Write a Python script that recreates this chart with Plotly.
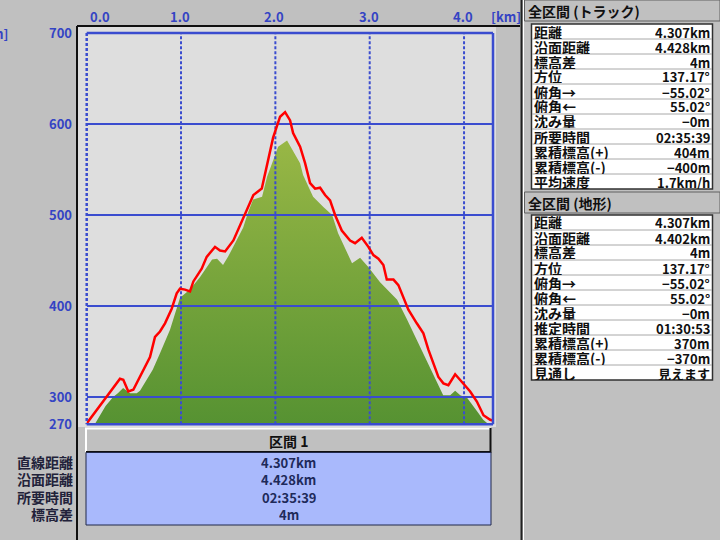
import plotly.graph_objects as go

W, H = 720, 540

# ---------------- data ----------------
track_km = [0.0, 0.194, 0.265, 0.318, 0.353, 0.388, 0.441, 0.494, 0.565, 0.618, 0.671, 0.724, 0.777,
            0.830, 0.901, 0.954, 0.989, 1.042, 1.095, 1.131, 1.219, 1.272, 1.360, 1.413, 1.467,
            1.555, 1.661, 1.714, 1.767, 1.856, 1.909, 1.976, 2.050, 2.103, 2.156, 2.188, 2.262,
            2.315, 2.368, 2.421, 2.474, 2.527, 2.580, 2.633, 2.704, 2.792, 2.845, 2.916, 2.986,
            3.039, 3.092, 3.145, 3.181, 3.252, 3.304, 3.357, 3.410, 3.499, 3.569, 3.622, 3.675,
            3.728, 3.781, 3.834, 3.906, 3.994, 4.065, 4.136, 4.206, 4.277, 4.307]
track_elev = [271, 298, 308, 315, 320, 319, 306, 308, 322, 333, 344, 366, 372,
              381, 397, 414, 419, 418, 416, 427, 441, 454, 465, 461, 460,
              472, 498, 510, 522, 529, 555, 585, 608, 613, 604, 590, 575,
              557, 535, 529, 530, 522, 516, 500, 483, 472, 469, 475, 465,
              456, 452, 445, 429, 429, 423, 410, 396, 381, 370, 352, 337,
              322, 315, 313, 325, 315, 306, 295, 280, 275, 274]

terrain_km = [0.0, 0.09, 0.20, 0.28, 0.33, 0.386, 0.46, 0.53, 0.565, 0.639, 0.70, 0.777, 0.883,
              0.989, 1.095, 1.202, 1.329, 1.382, 1.445, 1.498, 1.594, 1.658, 1.711, 1.764,
              1.859, 1.912, 1.976, 2.029, 2.124, 2.188, 2.262, 2.294, 2.400, 2.506, 2.602,
              2.665, 2.74, 2.813, 2.898, 2.983, 3.110, 3.20, 3.291, 3.397, 3.535, 3.662,
              3.779, 3.853, 3.906, 3.96, 4.034, 4.140, 4.203, 4.26, 4.307]
terrain_elev = [270, 271, 290, 300, 304, 310, 304, 304, 307, 319, 330, 348, 374,
                409, 418, 432, 451, 452, 445, 454, 473, 486, 503, 517,
                520, 542, 560, 575, 582, 571, 557, 544, 520, 509, 500,
                480, 463, 447, 453, 443, 426, 417, 407, 385, 355, 326,
                302, 302, 307, 302, 299, 284, 275, 270, 270]

x_max = 4.307
y_min, y_max = 270, 700
x_ticks = [0, 1, 2, 3, 4]
x_tick_labels = ["0.0", "1.0", "2.0", "3.0", "4.0"]
y_ticks = [270, 300, 400, 500, 600, 700]
y_tick_labels = ["270", "300", "400", "500", "600", "700"]
x_unit = "[km]"
y_unit = "[m]"

section_title = "区間 1"
section_labels = ["直線距離", "沿面距離", "所要時間", "標高差"]
section_values = ["4.307km", "4.428km", "02:35:39", "4m"]

track_title = "全区間 (トラック)"
track_labels = ["距離", "沿面距離", "標高差", "方位", "俯角→", "俯角←", "沈み量",
                "所要時間", "累積標高(+)", "累積標高(-)", "平均速度"]
track_values = ["4.307km", "4.428km", "4m", "137.17°", "−55.02°", "55.02°", "−0m",
                "02:35:39", "404m", "−400m", "1.7km/h"]

terrain_title = "全区間 (地形)"
terrain_labels = ["距離", "沿面距離", "標高差", "方位", "俯角→", "俯角←", "沈み量",
                  "推定時間", "累積標高(+)", "累積標高(-)", "見通し"]
terrain_values = ["4.307km", "4.402km", "4m", "137.17°", "−55.02°", "55.02°", "−0m",
                  "01:30:53", "370m", "−370m", "見えます"]

# ---------------- styling / layout helpers ----------------
FONT = "Noto Sans CJK JP"
BLUE = "#3a4ccf"
TICK_BLUE = "#3444c4"
BG = "#c0c0c0"
PLOT_BG = "#dcdcdc"

PX_L, PX_R = 86.7, 493.0
PY_T, PY_B = 33.0, 424.3


def fx(p):
    return p / W


def fy(p):
    return 1 - p / H


fig = go.Figure()

# terrain area with vertical gradient
fig.add_trace(go.Scatter(
    x=terrain_km, y=terrain_elev, mode="lines", line=dict(width=0, color="#6a9c38"),
    fill="tozeroy",
    fillgradient=dict(type="vertical", colorscale=[[0, "#569232"], [1, "#9ab846"]],
                      start=270, stop=590),
    hoverinfo="skip", showlegend=False))

# grid lines (drawn above terrain, below track)
for t in x_ticks[1:]:
    fig.add_trace(go.Scatter(x=[t, t], y=[y_min, y_max], mode="lines",
                             line=dict(color=BLUE, width=2, dash="3px,2px"),
                             hoverinfo="skip", showlegend=False))
for t in y_ticks[1:-1]:
    fig.add_trace(go.Scatter(x=[0, x_max], y=[t, t], mode="lines",
                             line=dict(color=BLUE, width=2),
                             hoverinfo="skip", showlegend=False))

# track line
fig.add_trace(go.Scatter(x=track_km, y=track_elev, mode="lines",
                         line=dict(color="#ff0000", width=2.5),
                         hoverinfo="skip", showlegend=False))

shapes = []
# light area inside black frame
shapes.append(dict(type="rect", xref="paper", yref="paper", x0=fx(78), x1=fx(496), y0=fy(427), y1=fy(27),
                   fillcolor="#dedede", line=dict(width=0), layer="below"))
# black frame lines
shapes.append(dict(type="line", xref="paper", yref="paper", x0=fx(77), x1=fx(520), y0=fy(26), y1=fy(26),
                   line=dict(color="#101010", width=2)))
shapes.append(dict(type="line", xref="paper", yref="paper", x0=fx(77), x1=fx(77), y0=fy(26), y1=fy(540),
                   line=dict(color="#101010", width=2)))
# right panel separator
shapes.append(dict(type="line", xref="paper", yref="paper", x0=fx(521.5), x1=fx(521.5), y0=0, y1=1,
                   line=dict(color="#202020", width=2)))
shapes.append(dict(type="line", xref="paper", yref="paper", x0=fx(523.5), x1=fx(523.5), y0=0, y1=1,
                   line=dict(color="#ffffff", width=1)))

# plot border (blue)
shapes.append(dict(type="line", xref="paper", yref="paper", x0=fx(PX_L), x1=fx(PX_R), y0=fy(PY_T), y1=fy(PY_T),
                   line=dict(color=BLUE, width=2.5)))
shapes.append(dict(type="line", xref="paper", yref="paper", x0=fx(PX_L), x1=fx(PX_R), y0=fy(PY_B), y1=fy(PY_B),
                   line=dict(color=BLUE, width=2.5)))
shapes.append(dict(type="line", xref="paper", yref="paper", x0=fx(PX_R), x1=fx(PX_R), y0=fy(PY_T), y1=fy(PY_B),
                   line=dict(color=BLUE, width=2.5)))
shapes.append(dict(type="line", xref="paper", yref="paper", x0=fx(PX_L), x1=fx(PX_L), y0=fy(PY_T), y1=fy(PY_B),
                   line=dict(color=BLUE, width=2.5, dash="3px,2px")))

# section box below plot
shapes.append(dict(type="rect", xref="paper", yref="paper", x0=fx(86), x1=fx(491), y0=fy(452), y1=fy(428),
                   fillcolor=BG, line=dict(width=0)))
shapes.append(dict(type="path", xref="paper", yref="paper",
                   path=f"M {fx(86)} {fy(452)} L {fx(86)} {fy(428.5)} L {fx(491)} {fy(428.5)}",
                   line=dict(color="#ffffff", width=2)))
shapes.append(dict(type="path", xref="paper", yref="paper",
                   path=f"M {fx(490.5)} {fy(428)} L {fx(490.5)} {fy(452)} L {fx(86)} {fy(452)}",
                   line=dict(color="#101010", width=2)))
shapes.append(dict(type="rect", xref="paper", yref="paper", x0=fx(86), x1=fx(491), y0=fy(525), y1=fy(452.5),
                   fillcolor="#a9b9fc", line=dict(color="#20284a", width=1)))


def panel(y_head0, y_head1, y_tab0, n_rows, row_h=15):
    shapes.append(dict(type="rect", xref="paper", yref="paper", x0=fx(524.5), x1=fx(720), y0=fy(y_head1),
                       y1=fy(y_head0), fillcolor=BG, line=dict(color="#606060", width=1)))
    y_tab1 = y_tab0 + n_rows * row_h
    shapes.append(dict(type="rect", xref="paper", yref="paper", x0=fx(531.5), x1=fx(712.5), y0=fy(y_tab1),
                       y1=fy(y_tab0), fillcolor="#ffffff", line=dict(color="#303030", width=1.5)))
    for i in range(1, n_rows):
        yy = y_tab0 + i * row_h
        shapes.append(dict(type="line", xref="paper", yref="paper", x0=fx(532), x1=fx(712), y0=fy(yy),
                           y1=fy(yy), line=dict(color="#a8a8a8", width=1)))
    return y_tab1


panel(0, 21, 24, len(track_labels))
panel(192, 213, 215, len(terrain_labels))

ann = []
TF = dict(family=FONT, size=13, color=TICK_BLUE, weight="bold")

# y tick labels
for v, lab in zip(y_ticks, y_tick_labels):
    ann.append(dict(x=fx(74), xref="paper", y=v, yref="y", text=lab, showarrow=False,
                    xanchor="right", yanchor="middle", yshift=1, font=TF))
# x tick labels (top)
for v, lab in zip(x_ticks, x_tick_labels):
    ann.append(dict(x=v, xref="x", y=fy(16), yref="paper", text=lab, showarrow=False,
                    xanchor="left" if v == 0 else "center", yanchor="middle",
                    xshift=1 if v == 0 else -1, font=TF))
ann.append(dict(x=fx(506), xref="paper", y=fy(16), yref="paper", text=x_unit, showarrow=False,
                xanchor="center", yanchor="middle", font=TF))
ann.append(dict(x=fx(10), xref="paper", y=fy(33), yref="paper", text=y_unit, showarrow=False,
                xanchor="right", yanchor="middle", font=TF))

# section table
LF = dict(family=FONT, size=14, color="#22223a", weight="bold")
VF = dict(family=FONT, size=13, color="#1e2a5a", weight="bold")
ann.append(dict(x=fx(288.5), xref="paper", y=fy(441), yref="paper", text=section_title, showarrow=False,
                xanchor="center", yanchor="middle", font=dict(family=FONT, size=14, color="#101010", weight="bold")))
for i, (lab, val) in enumerate(zip(section_labels, section_values)):
    yy = 462 + i * 17.3
    ann.append(dict(x=fx(74), xref="paper", y=fy(yy), yref="paper", text=lab, showarrow=False,
                    xanchor="right", yanchor="middle", height=16, borderpad=0, font=LF))
    ann.append(dict(x=fx(288.5), xref="paper", y=fy(yy), yref="paper", text=val, showarrow=False,
                    xanchor="center", yanchor="middle", height=16, borderpad=0, font=VF))

# right panels
PF = dict(family=FONT, size=14, color="#101010", weight="bold")
PVF = dict(family=FONT, size=13, color="#101010", weight="bold")


def panel_text(title, y_title, labels, values, y_tab0, row_h=15):
    ann.append(dict(x=fx(526), xref="paper", y=fy(y_title), yref="paper", text=title, showarrow=False,
                    xanchor="left", yanchor="middle", font=PF))
    for i, (lab, val) in enumerate(zip(labels, values)):
        yy = y_tab0 + i * row_h + row_h / 2
        ann.append(dict(x=fx(533), xref="paper", y=fy(yy), yref="paper", text=lab, showarrow=False,
                        xanchor="left", yanchor="middle", height=14, borderpad=0, font=PF))
        ann.append(dict(x=fx(711), xref="paper", y=fy(yy), yref="paper", text=val, showarrow=False,
                        xanchor="right", yanchor="middle", height=14, borderpad=0, font=PVF))


panel_text(track_title, 11, track_labels, track_values, 24)
panel_text(terrain_title, 203, terrain_labels, terrain_values, 215)

fig.update_layout(
    width=W, height=H,
    margin=dict(l=0, r=0, t=0, b=0, autoexpand=False),
    paper_bgcolor=BG, plot_bgcolor=PLOT_BG,
    xaxis=dict(domain=[fx(PX_L), fx(PX_R)], range=[0, x_max], showgrid=False, zeroline=False,
               showticklabels=False, ticks="", showline=False, fixedrange=True),
    yaxis=dict(domain=[fy(PY_B), fy(PY_T)], range=[y_min, y_max], showgrid=False, zeroline=False,
               showticklabels=False, ticks="", showline=False, fixedrange=True),
    shapes=shapes, annotations=ann, showlegend=False,
)

fig.write_html("out.html", config={"displayModeBar": False},
               post_script="document.body.style.margin='0';document.body.style.background='#c0c0c0';")
